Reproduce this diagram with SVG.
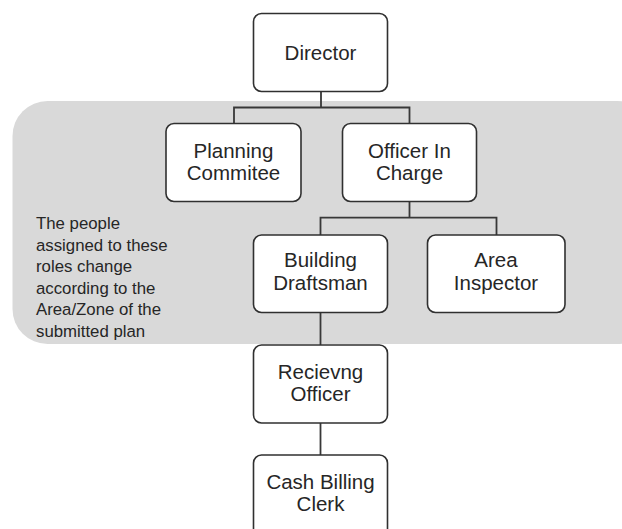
<svg xmlns="http://www.w3.org/2000/svg" width="622" height="529" viewBox="0 0 622 529">
<style>
.bg{fill:#d9d9d9;}
.box{fill:#ffffff;stroke:#303030;stroke-width:1.6;}
.lbl{font-family:"Liberation Sans",Arial,sans-serif;font-size:20.5px;fill:#262626;text-anchor:middle;}
.note{font-family:"Liberation Sans",Arial,sans-serif;font-size:16.8px;fill:#262626;}
.conn{fill:none;stroke:#383838;stroke-width:1.8;}
</style>
<rect width="622" height="529" fill="#ffffff"/>
<g id="region">
<rect class="bg" x="12.5" y="101" width="640" height="243" rx="35" ry="35"/>
<text class="note" x="36" y="229">The people</text>
<text class="note" x="36" y="250.5">assigned to these</text>
<text class="note" x="36" y="272">roles change</text>
<text class="note" x="36" y="293.5">according to the</text>
<text class="note" x="36" y="315">Area/Zone of the</text>
<text class="note" x="36" y="336.5">submitted plan</text>
</g>
<g id="connectors">
<path class="conn" d="M321,91.7 V107.5 M234,123.5 V107.5 H409.5 V123.5"/>
<path class="conn" d="M409.5,201.5 V217.7 M320.5,235 V217.7 H496.5 V235"/>
<path class="conn" d="M320.5,312.5 V345"/>
<path class="conn" d="M320.5,423 V455"/>
</g>
<g id="director">
<rect class="box" x="253.5" y="13.5" width="134" height="78" rx="8"/>
<text class="lbl" x="320.5" y="60">Director</text>
</g>
<g id="planning-commitee">
<rect class="box" x="166" y="123.5" width="135" height="78" rx="8"/>
<text class="lbl" x="233.5" y="157.5">Planning</text>
<text class="lbl" x="233.5" y="180">Commitee</text>
</g>
<g id="officer-in-charge">
<rect class="box" x="342.5" y="123.5" width="134" height="78" rx="8"/>
<text class="lbl" x="409.5" y="157.5">Officer In</text>
<text class="lbl" x="409.5" y="180">Charge</text>
</g>
<g id="building-draftsman">
<rect class="box" x="253.5" y="235" width="134" height="77.5" rx="8"/>
<text class="lbl" x="320.5" y="267">Building</text>
<text class="lbl" x="320.5" y="289.5">Draftsman</text>
</g>
<g id="area-inspector">
<rect class="box" x="427.5" y="235" width="137.5" height="77.5" rx="8"/>
<text class="lbl" x="496" y="267">Area</text>
<text class="lbl" x="496" y="289.5">Inspector</text>
</g>
<g id="recievng-officer">
<rect class="box" x="253.5" y="345" width="134" height="78" rx="8"/>
<text class="lbl" x="320.5" y="378.5">Recievng</text>
<text class="lbl" x="320.5" y="401">Officer</text>
</g>
<g id="cash-billing-clerk">
<rect class="box" x="253.5" y="455" width="134" height="82" rx="8"/>
<text class="lbl" x="320.5" y="488.5">Cash Billing</text>
<text class="lbl" x="320.5" y="511">Clerk</text>
</g>
</svg>
